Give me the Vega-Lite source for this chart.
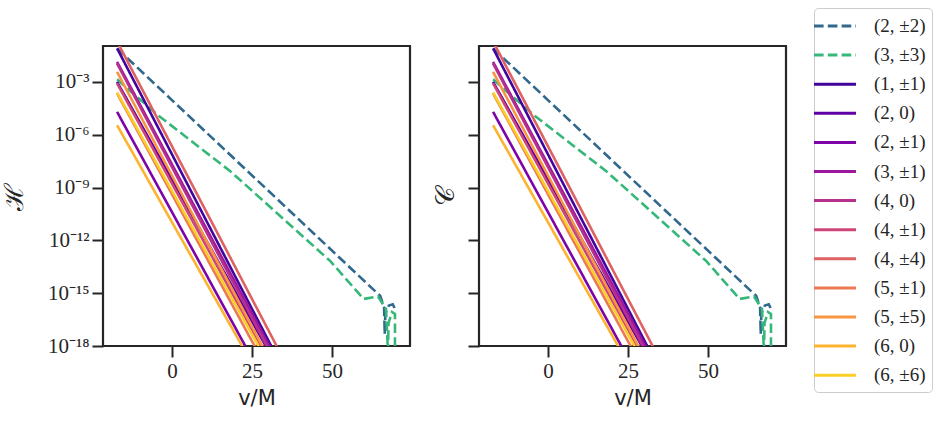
{
  "$schema": "https://vega.github.io/schema/vega-lite/v6.json",
  "padding": {"left": 0, "top": 7, "right": 8, "bottom": 5},
  "datasets": {
    "d": [
      {"mode": "(2, ±2)", "i": 0, "v": -17.2, "val": 0.0794},
      {"mode": "(2, ±2)", "i": 1, "v": 65.1, "val": 6.92e-16},
      {"mode": "(2, ±2)", "i": 2, "v": 66.3, "val": 1.48e-16},
      {"mode": "(2, ±2)", "i": 3, "v": 66.5, "val": 4.8e-18},
      {"mode": "(2, ±2)", "i": 4, "v": 66.7, "val": 7.4e-17},
      {"mode": "(2, ±2)", "i": 5, "v": 67.8, "val": 2.0e-16},
      {"mode": "(2, ±2)", "i": 6, "v": 69.0, "val": 2.34e-16},
      {"mode": "(2, ±2)", "i": 7, "v": 69.8, "val": 1.2e-16},
      {"mode": "(3, ±3)", "i": 0, "v": -17.2, "val": 0.00141},
      {"mode": "(3, ±3)", "i": 1, "v": -4.7, "val": 1.41e-5},
      {"mode": "(3, ±3)", "i": 2, "v": 18.2, "val": 8.5e-9},
      {"mode": "(3, ±3)", "i": 3, "v": 49.5, "val": 6.6e-14},
      {"mode": "(3, ±3)", "i": 4, "v": 59.9, "val": 4.7e-16},
      {"mode": "(3, ±3)", "i": 5, "v": 64.4, "val": 6.5e-16},
      {"mode": "(3, ±3)", "i": 6, "v": 66.9, "val": 1.26e-16},
      {"mode": "(3, ±3)", "i": 7, "v": 67.5, "val": 5e-19},
      {"mode": "(3, ±3)", "i": 8, "v": 67.7, "val": 2.04e-17},
      {"mode": "(3, ±3)", "i": 9, "v": 68.75, "val": 8.5e-17},
      {"mode": "(3, ±3)", "i": 10, "v": 69.7, "val": 6.6e-17},
      {"mode": "(3, ±3)", "i": 11, "v": 69.7, "val": 3.2e-19},
      {"mode": "(1, ±1)", "i": 0, "v": -17.2, "val": 0.0813},
      {"mode": "(1, ±1)", "i": 1, "v": 33.85, "val": 1e-19},
      {"mode": "(2, 0)", "i": 0, "v": -17.2, "val": 0.001},
      {"mode": "(2, 0)", "i": 1, "v": 32.4, "val": 1e-19},
      {"mode": "(2, ±1)", "i": 0, "v": -17.2, "val": 1.995e-5},
      {"mode": "(2, ±1)", "i": 1, "v": 25.92, "val": 1e-19},
      {"mode": "(3, ±1)", "i": 0, "v": -17.2, "val": 0.0138},
      {"mode": "(3, ±1)", "i": 1, "v": 33.35, "val": 1e-19},
      {"mode": "(4, 0)", "i": 0, "v": -17.2, "val": 0.01122},
      {"mode": "(4, 0)", "i": 1, "v": 32.52, "val": 1e-19},
      {"mode": "(4, ±1)", "i": 0, "v": -17.2, "val": 0.000832},
      {"mode": "(4, ±1)", "i": 1, "v": 30.82, "val": 1e-19},
      {"mode": "(4, ±4)", "i": 0, "v": -17.2, "val": 0.1995},
      {"mode": "(4, ±4)", "i": 1, "v": 35.58, "val": 1e-19},
      {"mode": "(5, ±1)", "i": 0, "v": -17.2, "val": 0.000224},
      {"mode": "(5, ±1)", "i": 1, "v": 28.8, "val": 1e-19},
      {"mode": "(5, ±5)", "i": 0, "v": -17.2, "val": 0.003715},
      {"mode": "(5, ±5)", "i": 1, "v": 31.12, "val": 1e-19},
      {"mode": "(6, 0)", "i": 0, "v": -17.2, "val": 3.467e-6},
      {"mode": "(6, 0)", "i": 1, "v": 25.02, "val": 1e-19},
      {"mode": "(6, ±6)", "i": 0, "v": -17.2, "val": 0.000251},
      {"mode": "(6, ±6)", "i": 1, "v": 30.07, "val": 1e-19}
    ]
  },
  "config": {
    "view": {"stroke": "#262626", "strokeWidth": 2.2},
    "axis": {
      "domain": false,
      "grid": false,
      "tickColor": "#262626",
      "tickWidth": 2,
      "tickSize": 11,
      "labelFont": "Liberation Serif",
      "labelFontSize": 21,
      "labelColor": "#262626",
      "titleColor": "#262626",
      "titleFontWeight": "normal"
    },
    "legend": {
      "orient": "none",
      "legendX": 711,
      "legendY": -38,
      "strokeColor": "#cccccc",
      "fillColor": "white",
      "cornerRadius": 4,
      "padding": 6,
      "symbolOffset": 3,
      "labelFont": "Liberation Serif",
      "labelFontSize": 19,
      "labelColor": "#262626",
      "labelOffset": 27,
      "symbolType": "M-2,0H2",
      "symbolSize": 440,
      "symbolStrokeWidth": 3,
      "rowPadding": 7.1
    }
  },
  "spacing": 18,
  "resolve": {
    "scale": {"color": "shared", "strokeDash": "shared"},
    "legend": {"color": "shared", "strokeDash": "shared"}
  },
  "hconcat": [
    {
      "width": 307,
      "height": 300,
      "data": {"name": "d"},
      "mark": {"type": "line", "strokeWidth": 2.6, "clip": true},
      "encoding": {
        "x": {
          "field": "v", "type": "quantitative",
          "scale": {"domain": [-21.6, 74.4], "nice": false, "zero": false},
          "axis": {"values": [0, 25, 50], "title": "v/M", "titleFont": "DejaVu Sans", "titleFontSize": 21, "labelPadding": 3, "titlePadding": 6}
        },
        "y": {
          "field": "val", "type": "quantitative",
          "scale": {"type": "log", "domain": [1e-18, 0.11], "nice": false},
          "axis": {
            "values": [1e-18, 1e-15, 1e-12, 1e-9, 1e-6, 1e-3],
            "labelExpr": "datum.value < 1e-16 ? '10⁻¹⁸' : datum.value < 1e-13 ? '10⁻¹⁵' : datum.value < 1e-10 ? '10⁻¹²' : datum.value < 1e-7 ? '10⁻⁹' : datum.value < 1e-4 ? '10⁻⁶' : '10⁻³'",
            "labelPadding": 3,
            "title": "ℋ", "titleFont": "DejaVu Serif", "titleFontSize": 26, "titlePadding": 20
          }
        },
        "color": {
          "field": "mode", "type": "nominal",
          "scale": {
            "domain": ["(2, ±2)", "(3, ±3)", "(1, ±1)", "(2, 0)", "(2, ±1)", "(3, ±1)", "(4, 0)", "(4, ±1)", "(4, ±4)", "(5, ±1)", "(5, ±5)", "(6, 0)", "(6, ±6)"],
            "range": ["#31688e", "#35b779", "#41049d", "#5d01a6", "#7e03a8", "#9c179e", "#b52f8c", "#cc4778", "#df6263", "#ed7953", "#f89540", "#fdb32f", "#fcce25"]
          },
          "legend": {"title": null}
        },
        "strokeDash": {
          "field": "mode", "type": "nominal",
          "scale": {
            "domain": ["(2, ±2)", "(3, ±3)", "(1, ±1)", "(2, 0)", "(2, ±1)", "(3, ±1)", "(4, 0)", "(4, ±1)", "(4, ±4)", "(5, ±1)", "(5, ±5)", "(6, 0)", "(6, ±6)"],
            "range": [[9.6, 4.2], [9.6, 4.2], [1, 0], [1, 0], [1, 0], [1, 0], [1, 0], [1, 0], [1, 0], [1, 0], [1, 0], [1, 0], [1, 0]]
          },
          "legend": {"title": null}
        },
        "order": {"field": "i", "type": "quantitative"}
      }
    },
    {
      "width": 307,
      "height": 300,
      "data": {"name": "d"},
      "mark": {"type": "line", "strokeWidth": 2.6, "clip": true},
      "encoding": {
        "x": {
          "field": "v", "type": "quantitative",
          "scale": {"domain": [-21.6, 74.4], "nice": false, "zero": false},
          "axis": {"values": [0, 25, 50], "title": "v/M", "titleFont": "DejaVu Sans", "titleFontSize": 21, "labelPadding": 3, "titlePadding": 6}
        },
        "y": {
          "field": "val", "type": "quantitative",
          "scale": {"type": "log", "domain": [1e-18, 0.11], "nice": false},
          "axis": {
            "values": [1e-18, 1e-15, 1e-12, 1e-9, 1e-6, 1e-3],
            "labels": false,
            "title": "𝒞", "titleFont": "DejaVu Serif", "titleFontSize": 26, "titlePadding": 9
          }
        },
        "color": {
          "field": "mode", "type": "nominal",
          "scale": {
            "domain": ["(2, ±2)", "(3, ±3)", "(1, ±1)", "(2, 0)", "(2, ±1)", "(3, ±1)", "(4, 0)", "(4, ±1)", "(4, ±4)", "(5, ±1)", "(5, ±5)", "(6, 0)", "(6, ±6)"],
            "range": ["#31688e", "#35b779", "#41049d", "#5d01a6", "#7e03a8", "#9c179e", "#b52f8c", "#cc4778", "#df6263", "#ed7953", "#f89540", "#fdb32f", "#fcce25"]
          },
          "legend": {"title": null}
        },
        "strokeDash": {
          "field": "mode", "type": "nominal",
          "scale": {
            "domain": ["(2, ±2)", "(3, ±3)", "(1, ±1)", "(2, 0)", "(2, ±1)", "(3, ±1)", "(4, 0)", "(4, ±1)", "(4, ±4)", "(5, ±1)", "(5, ±5)", "(6, 0)", "(6, ±6)"],
            "range": [[9.6, 4.2], [9.6, 4.2], [1, 0], [1, 0], [1, 0], [1, 0], [1, 0], [1, 0], [1, 0], [1, 0], [1, 0], [1, 0], [1, 0]]
          },
          "legend": {"title": null}
        },
        "order": {"field": "i", "type": "quantitative"}
      }
    }
  ]
}
